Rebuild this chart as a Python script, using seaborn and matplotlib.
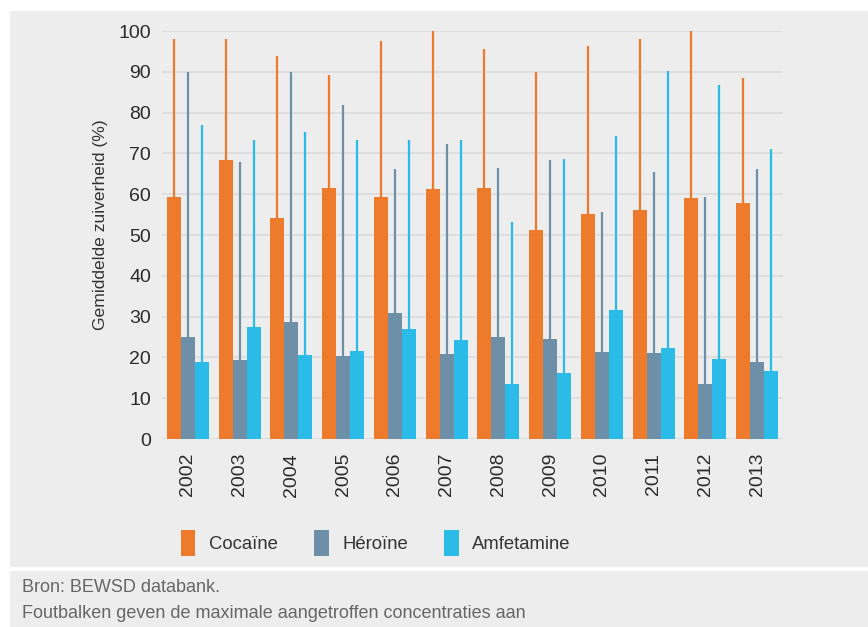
import matplotlib
matplotlib.use("Agg")
import matplotlib.pyplot as plt
from matplotlib.patches import Rectangle, Patch
import seaborn as sns
import pandas as pd

years = ["2002", "2003", "2004", "2005", "2006", "2007", "2008", "2009", "2010", "2011", "2012", "2013"]
drugs = ["Cocaïne", "Héroïne", "Amfetamine"]

cocaine_mean = [59.3, 68.5, 54.2, 61.5, 59.3, 61.3, 61.5, 51.2, 55.1, 56.1, 59.1, 57.8]
heroine_mean = [25.0, 19.4, 28.7, 20.3, 30.9, 20.8, 25.0, 24.5, 21.3, 21.1, 13.5, 18.9]
amfet_mean = [18.9, 27.5, 20.6, 21.6, 26.9, 24.3, 13.5, 16.2, 31.6, 22.3, 19.6, 16.7]

cocaine_max = [98.0, 98.0, 93.9, 89.2, 97.5, 100.0, 95.6, 90.0, 96.3, 98.0, 100.0, 88.5]
heroine_max = [90.0, 67.9, 90.0, 81.9, 66.2, 72.3, 66.4, 68.4, 55.6, 65.4, 59.3, 66.2]
amfet_max = [77.0, 73.3, 75.2, 73.3, 73.3, 73.3, 53.2, 68.6, 74.3, 90.2, 86.8, 71.1]

colors = ["#EE7B2C", "#6D8FA7", "#2BBBE8"]
BG = "#ECEDEC"

rows = []
for d, means in zip(drugs, [cocaine_mean, heroine_mean, amfet_mean]):
    for y, m in zip(years, means):
        rows.append({"jaar": y, "drug": d, "gem": m})
df = pd.DataFrame(rows)
maxima = [cocaine_max, heroine_max, amfet_max]

sns.set_theme(style="white")
plt.rcParams["font.family"] = ["Liberation Sans", "DejaVu Sans"]
plt.rcParams["text.color"] = "#333333"

W, H = 868, 627
fig = plt.figure(figsize=(W / 100, H / 100), dpi=100, facecolor="white")

# background panels
fig.patches.append(Rectangle((10 / W, 1 - 567 / H), 1 - 10 / W, (567 - 11) / H,
                             transform=fig.transFigure, facecolor=BG, edgecolor="none", zorder=-10))
fig.patches.append(Rectangle((10 / W, 0), 1 - 10 / W, (627 - 571) / H,
                             transform=fig.transFigure, facecolor=BG, edgecolor="none", zorder=-10))

ax = fig.add_axes([162 / W, 1 - 439 / H, (783 - 162) / W, (439 - 31) / H])
ax.set_facecolor(BG)

sns.barplot(data=df, x="jaar", y="gem", hue="drug", hue_order=drugs, order=years,
            palette=colors, width=0.81, gap=0, saturation=1, errorbar=None,
            legend=False, ax=ax, zorder=3, linewidth=0, edgecolor="none")

# max-value lines from top of bars
for cont, mx, c in zip(ax.containers, maxima, colors):
    for bar, m in zip(cont, mx):
        xc = bar.get_x() + bar.get_width() / 2
        ax.vlines(xc, bar.get_height(), m, color=c, lw=1.6, zorder=2.5, clip_on=False)

ax.set_xlim(-0.5, len(years) - 0.5)
ax.set_ylim(0, 100)
ax.set_yticks(range(0, 101, 10))
ax.grid(axis="y", color="#DCDDDC", lw=1.3, zorder=0)
ax.set_axisbelow(True)
for s in ax.spines.values():
    s.set_visible(False)
ax.tick_params(axis="both", length=0, labelsize=14, labelcolor="#2b2b2b")
ax.tick_params(axis="y", pad=8)
ax.tick_params(axis="x", pad=10)
plt.setp(ax.get_xticklabels(), rotation=90)
ax.set_xlabel("")
ax.set_ylabel("Gemiddelde zuiverheid (%)", fontsize=12.6, color="#333333")
ax.yaxis.set_label_coords(-0.087, 0.526)

handles = [Patch(facecolor=c, edgecolor="none", label=d) for c, d in zip(colors, drugs)]
fig.legend(handles=handles, loc="center left", bbox_to_anchor=(181 / W, 1 - 543 / H),
           ncol=3, frameon=False, fontsize=13.3, handlelength=0.78, handleheight=1.75,
           handletextpad=0.75, columnspacing=1.95, borderpad=0, borderaxespad=0)

fig.text(22 / W, 1 - 588 / H, "Bron: BEWSD databank.", fontsize=13, color="#666666", va="center")
fig.text(22 / W, 1 - 613 / H, "Foutbalken geven de maximale aangetroffen concentraties aan",
         fontsize=13, color="#666666", va="center")

fig.savefig("out.png", dpi=100, facecolor="white")
